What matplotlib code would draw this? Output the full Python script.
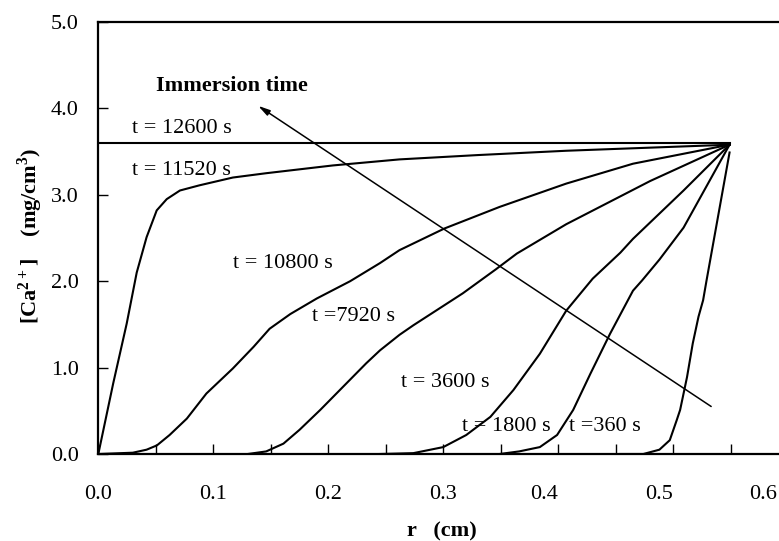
import matplotlib
matplotlib.use("Agg")
import matplotlib.pyplot as plt

plt.rcParams['font.family'] = ['Liberation Serif', 'DejaVu Serif']
plt.rcParams['mathtext.fontset'] = 'custom'
plt.rcParams['mathtext.rm'] = 'Liberation Serif'
plt.rcParams['mathtext.bf'] = 'Liberation Serif:bold'

# Ca2+ concentration profiles
r_12600 = [0.0, 0.549]
c_12600 = [3.60, 3.60]

r_11520 = [0.0, 0.013, 0.0247, 0.0334, 0.042, 0.0508, 0.0595, 0.071, 0.088,
           0.117, 0.146, 0.204, 0.262, 0.330, 0.407, 0.549]
c_11520 = [0.0, 0.82, 1.51, 2.10, 2.51, 2.82, 2.95, 3.05, 3.11,
           3.20, 3.25, 3.34, 3.41, 3.46, 3.51, 3.58]

r_10800 = [0.0, 0.030, 0.042, 0.051, 0.062, 0.077, 0.094, 0.117, 0.135, 0.149,
           0.167, 0.190, 0.219, 0.245, 0.262, 0.301, 0.349, 0.407, 0.465, 0.549]
c_10800 = [0.0, 0.015, 0.05, 0.10, 0.22, 0.41, 0.70, 0.99, 1.24, 1.45,
           1.62, 1.80, 2.00, 2.21, 2.36, 2.61, 2.86, 3.13, 3.36, 3.58]

r_7920 = [0.13, 0.146, 0.161, 0.175, 0.193, 0.213, 0.233, 0.245, 0.262, 0.274,
          0.317, 0.346, 0.364, 0.407, 0.480, 0.549]
c_7920 = [0.0, 0.03, 0.12, 0.28, 0.51, 0.78, 1.05, 1.20, 1.38, 1.49,
          1.86, 2.14, 2.32, 2.66, 3.16, 3.58]

r_3600 = [0.245, 0.274, 0.300, 0.320, 0.341, 0.361, 0.384, 0.407, 0.430,
          0.454, 0.465, 0.509, 0.549]
c_3600 = [0.0, 0.01, 0.08, 0.22, 0.43, 0.74, 1.16, 1.66, 2.03,
          2.33, 2.49, 3.05, 3.58]

r_1800 = [0.349, 0.366, 0.384, 0.399, 0.413, 0.428, 0.445, 0.465, 0.473,
          0.488, 0.509, 0.549]
c_1800 = [0.0, 0.03, 0.08, 0.22, 0.51, 0.93, 1.39, 1.89, 2.01,
          2.25, 2.62, 3.58]

r_360 = [0.454, 0.474, 0.488, 0.497, 0.503, 0.506, 0.512, 0.517, 0.522,
         0.526, 0.529, 0.549]
c_360 = [0.0, 0.0, 0.05, 0.16, 0.39, 0.51, 0.89, 1.28, 1.59,
         1.78, 2.01, 3.49]

profiles = [(r_12600, c_12600), (r_11520, c_11520), (r_10800, c_10800),
            (r_7920, c_7920), (r_3600, c_3600), (r_1800, c_1800), (r_360, c_360)]

curve_labels = ['t = 12600 s', 't = 11520 s', 't = 10800 s', 't =7920 s',
                't = 3600 s', 't = 1800 s', 't =360 s']
label_r = [0.029, 0.029, 0.117, 0.186, 0.263, 0.316, 0.409]
label_c = [3.77, 3.28, 2.20, 1.59, 0.83, 0.32, 0.32]

x_major = [0.0, 0.05, 0.10, 0.15, 0.20, 0.25, 0.30, 0.35, 0.40, 0.45, 0.50, 0.55]
x_tick_text = ['0.0', '0.1', '0.2', '0.3', '0.4', '0.5', '0.6']
x_tick_text_pos = [0.0, 0.1, 0.2, 0.3, 0.388, 0.4876, 0.578]
y_ticks = [0, 1, 2, 3, 4, 5]

fig = plt.figure(figsize=(7.79, 5.41), dpi=100)
ax = fig.add_axes([0.1262, 0.1608, 0.8738, 0.7985])

for r, c in profiles:
    ax.plot(r, c, color='black', lw=1.5)

for txt, x, y in zip(curve_labels, label_r, label_c):
    ax.text(x, y, txt, fontsize=16, ha='left', va='center')

# immersion time arrow
ax.annotate('', xy=(0.139, 4.03), xytext=(0.533, 0.55),
            arrowprops=dict(arrowstyle='-|>,head_length=0.7,head_width=0.18',
                            color='black', lw=1.1, shrinkA=0, shrinkB=0))
ax.text(0.116, 4.26, 'Immersion time', fontsize=16, fontweight='bold',
        ha='center', va='center')

ax.set_xlim(0, 0.592)
ax.set_ylim(0, 5)

# tick marks every 0.05, labels placed where the reference has them
ax.xaxis.remove_overlapping_locs = False
ax.set_xticks(x_major)
ax.set_xticklabels([])
ax.set_xticks(x_tick_text_pos, minor=True)
ax.set_xticklabels(x_tick_text, minor=True)
ax.tick_params(axis='x', which='major', direction='in', length=7, width=1)
ax.tick_params(axis='x', which='minor', length=0, pad=22, labelsize=16)

ax.set_yticks(y_ticks)
ax.set_yticklabels(['%.1f' % v for v in y_ticks])
ax.tick_params(axis='y', direction='in', length=7, width=1, pad=14, labelsize=16)

ax.spines['right'].set_visible(False)
for s in ['left', 'bottom', 'top']:
    ax.spines[s].set_linewidth(1.6)

fig.text(442 / 779, 1 - 531 / 541, 'r   (cm)', fontsize=16, fontweight='bold',
         ha='center', va='center')
fig.text(30 / 779, 1 - 236 / 541,
         r'$\mathbf{[Ca^{2+}]}$    (mg/cm$^{\mathbf{3}}$)', fontsize=16,
         fontweight='bold', rotation=90, ha='center', va='center')

fig.savefig('out.png', dpi=100)
